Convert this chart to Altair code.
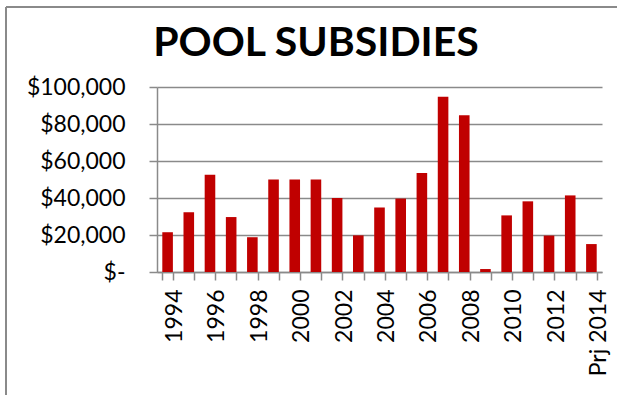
import altair as alt
import pandas as pd

years = ["1994", "1995", "1996", "1997", "1998", "1999", "2000", "2001", "2002",
         "2003", "2004", "2005", "2006", "2007", "2008", "2009", "2010", "2011",
         "2012", "2013", "Prj 2014"]
values = [21500, 32300, 52600, 29700, 18800, 50000, 50000, 50000, 40000,
          19800, 34800, 39700, 53500, 94700, 84700, 1600, 30600, 38200,
          19700, 41400, 15100]
shown_labels = years[::2]
y_ticks = [0, 20000, 40000, 60000, 80000, 100000]
title_text = "POOL SUBSIDIES"

df = pd.DataFrame({"year": years, "subsidy": values})
label_list = ",".join(f"'{y}'" for y in shown_labels)

GRAY = "#8a8a8a"

bars = alt.Chart(df).mark_bar(color="#C00000").encode(
    x=alt.X(
        "year:N", sort=years, title=None,
        scale=alt.Scale(paddingInner=0.5, paddingOuter=0.25),
        axis=alt.Axis(
            labelAngle=-90,
            labelExpr=f"indexof([{label_list}], datum.value) >= 0 ? datum.label : ''",
            tickBand="extent", labelOffset=7, labelPadding=9, tickSize=8,
            tickColor=GRAY, domainColor=GRAY, tickWidth=1.5, domainWidth=1.5,
            labelFont="Lato", labelFontSize=23, labelColor="#000000",
            grid=False, labelOverlap=False,
        ),
    ),
    y=alt.Y(
        "subsidy:Q", title=None,
        scale=alt.Scale(domain=[0, 100000], nice=False),
        axis=alt.Axis(
            values=y_ticks,
            labelExpr="datum.value == 0 ? '$-\u00a0\u00a0' : '$' + format(datum.value, ',')",
            grid=True, gridColor=GRAY, gridWidth=1.5,
            tickSize=8, labelPadding=24, tickColor=GRAY, domainColor=GRAY,
            tickWidth=1.5, domainWidth=1.5,
            labelFont="Lato", labelFontSize=23, labelColor="#000000",
        ),
    ),
)

one_row = pd.DataFrame({"t": [title_text]})
left_border = alt.Chart(one_row).mark_rule(color=GRAY, strokeWidth=2).encode(
    x=alt.value(-151), y=alt.value(-80), y2=alt.value(330)
)
top_border = alt.Chart(one_row).mark_rule(color=GRAY, strokeWidth=2).encode(
    x=alt.value(-151), x2=alt.value(470), y=alt.value(-80)
)
title = alt.Chart(one_row).mark_text(
    font="Lato", fontSize=41, fontWeight="bold", color="#000000",
    align="center", baseline="alphabetic",
).encode(text="t:N", x=alt.value(159), y=alt.value(-31))

chart = alt.layer(bars, left_border, top_border, title).properties(
    width=445, height=185,
    padding={"left": 157, "top": 87, "right": 15, "bottom": 123},
    autosize=alt.AutoSizeParams(type="none"),
).configure_view(stroke=None)

chart.save("out.html", embed_options={"renderer": "svg", "actions": False})
